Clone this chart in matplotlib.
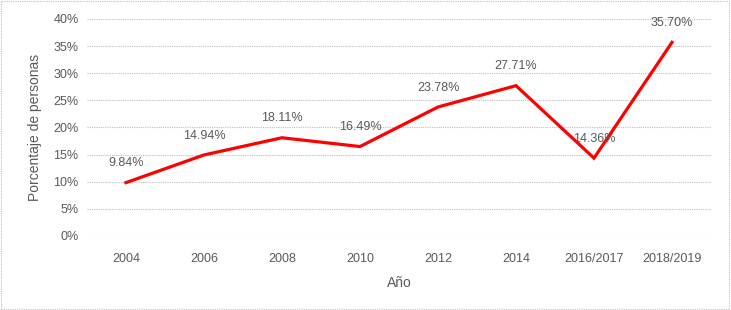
import matplotlib
matplotlib.use("Agg")
import matplotlib.pyplot as plt
from matplotlib.patches import Rectangle

categories = ["2004", "2006", "2008", "2010", "2012", "2014", "2016/2017", "2018/2019"]
values = [9.84, 14.94, 18.11, 16.49, 23.78, 27.71, 14.36, 35.70]
yticks = [0, 5, 10, 15, 20, 25, 30, 35, 40]

plt.rcParams['font.family'] = ['Liberation Sans', 'DejaVu Sans']
txt = '#595959'

fig = plt.figure(figsize=(7.31, 3.10), dpi=100)
ax = fig.add_axes([87/731, 1-236/310, 624/731, 217/310])
x = list(range(len(categories)))
ax.plot(x, values, color='#FF0000', lw=2.3, solid_joinstyle='miter', zorder=3)
for xi, v in zip(x, values):
    ax.annotate(f"{v:.2f}%", (xi, v), xytext=(0, 14), textcoords='offset points',
                ha='center', va='center', fontsize=9, color=txt, zorder=4)

ax.set_xlim(-0.5, len(categories) - 0.5)
ax.set_ylim(0, 40)
ax.set_yticks(yticks)
ax.set_yticklabels([f"{t}%" for t in yticks])
ax.set_xticks(x)
ax.set_xticklabels(categories)
ax.tick_params(axis='both', length=0, labelsize=9, colors=txt)
ax.tick_params(axis='x', pad=12)
ax.tick_params(axis='y', pad=6)
ax.yaxis.grid(True, color='#BFBFBF', linestyle=(0, (1, 1)), lw=0.8)
ax.set_axisbelow(True)
for s in ax.spines.values():
    s.set_visible(False)
ax.set_ylabel("Porcentaje de personas", fontsize=10, color=txt, labelpad=8)
ax.set_xlabel("Año", fontsize=10, color=txt, labelpad=8)

fig.patches.append(Rectangle((0.002, 0.004), 0.995, 0.992, transform=fig.transFigure,
                             fill=False, ec='#BFBFBF', lw=0.8, ls=(0, (1, 1))))
fig.savefig("out.png", dpi=100)
